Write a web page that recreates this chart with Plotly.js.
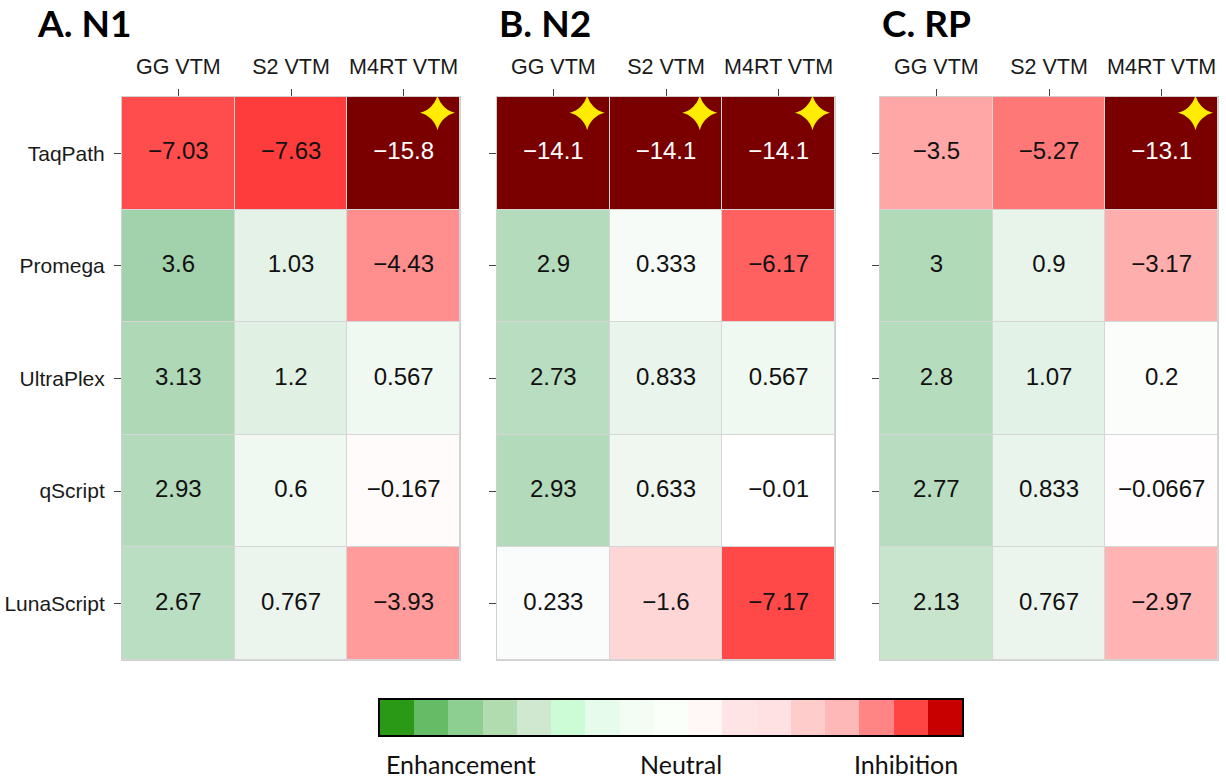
<!DOCTYPE html>
<html><head><meta charset="utf-8">
<script src="https://cdn.plot.ly/plotly-3.0.1.min.js"></script>
<style>html,body{margin:0;padding:0;background:#fff}#chart{width:1226px;height:780px}</style>
</head><body><div id="chart"></div>
<script>
// ---- data ----
const assays = ['TaqPath','Promega','UltraPlex','qScript','LunaScript'];
const media = ['GG VTM','S2 VTM','M4RT VTM'];
const panelTitles = ['A. N1','B. N2','C. RP'];
const valuesN1 = [[-7.03,-7.63,-15.8],[3.6,1.03,-4.43],[3.13,1.2,0.567],[2.93,0.6,-0.167],[2.67,0.767,-3.93]];
const valuesN2 = [[-14.1,-14.1,-14.1],[2.9,0.333,-6.17],[2.73,0.833,0.567],[2.93,0.633,-0.01],[0.233,-1.6,-7.17]];
const valuesRP = [[-3.5,-5.27,-13.1],[3,0.9,-3.17],[2.8,1.07,0.2],[2.77,0.833,-0.0667],[2.13,0.767,-2.97]];
const starsN1 = [[0,2]];
const starsN2 = [[0,0],[0,1],[0,2]];
const starsRP = [[0,2]];
const scaleLabels = ['Enhancement','Neutral','Inhibition'];
const scaleSteps = [0,1,2,3,4,5,6,7,8,9,10,11,12,13,14,15,16];
const scaleColors = ['#2a9a16','#66bb66','#8ccf90','#b0dcb0','#cfe8cf','#ccfcd6','#e6fbec','#f4fdf4','#fafffa',
  '#fff8f7','#ffe4e6','#ffe0e3','#ffcccc','#ffb8b8','#ff8484','#ff4444','#c80000'];

// ---- layout helpers ----
const W = 1226, H = 780;
const px = x => x / W, py = y => 1 - y / H;
const panelX = [[122,460],[497,835],[880,1218]];
const plotTop = 97, plotBot = 660;
const fmt = v => String(v).replace('-', '\u2212');

const heatScale = [[0,'rgb(122,0,0)'],[0.325,'rgb(122,0,0)'],[0.375,'rgb(255,38,38)'],
  [0.8,'rgb(255,255,255)'],[1,'rgb(151,205,162)']];

const panels = [valuesN1, valuesN2, valuesRP];
const stars = [starsN1, starsN2, starsRP];
const traces = [];
const layout = {
  width: W, height: H, margin: {l:0,r:0,t:0,b:0},
  paper_bgcolor: '#fff', plot_bgcolor: '#d6d6d6', showlegend: false,
  font: {family: 'Liberation Sans, Arial, sans-serif', color: '#1a1a1a'},
  annotations: [], shapes: []
};

panels.forEach((vals, p) => {
  const n = p + 1, xa = 'x' + (n === 1 ? '' : n), ya = 'y' + (n === 1 ? '' : n);
  traces.push({
    type: 'heatmap', x: [0,1,2], y: [0,1,2,3,4], z: vals,
    zmin: -16, zmax: 4, colorscale: heatScale, showscale: false,
    xgap: 1, ygap: 1, xaxis: xa, yaxis: ya, hoverinfo: 'skip'
  });
  const tx = [], ty = [], tt = [], tc = [];
  vals.forEach((row, r) => row.forEach((v, c) => {
    tx.push(c); ty.push(r); tt.push(fmt(v)); tc.push(v < -10 ? '#ffffff' : '#111111');
  }));
  traces.push({
    type: 'scatter', mode: 'text', x: tx, y: ty, text: tt,
    textfont: {family: 'Liberation Sans, Arial, sans-serif', size: 24, color: tc},
    xaxis: xa, yaxis: ya, hoverinfo: 'skip'
  });
  traces.push({
    type: 'scatter', mode: 'markers',
    x: stars[p].map(s => s[1] + 0.3), y: stars[p].map(s => s[0] - 0.36),
    marker: {symbol: 'star-diamond', size: 25, color: '#ffec00', line: {width: 0}},
    xaxis: xa, yaxis: ya, hoverinfo: 'skip'
  });
  layout['xaxis' + (n === 1 ? '' : n)] = {
    domain: [px(panelX[p][0]), px(panelX[p][1])], anchor: ya, side: 'top',
    range: [-0.5, 2.5], tickvals: [0,1,2], ticktext: media,
    ticks: 'outside', ticklen: 7, tickwidth: 1, tickcolor: '#444',
    ticklabelstandoff: 6,
    tickfont: {size: 21.5, color: '#1a1a1a'},
    showgrid: false, zeroline: false, showline: true, mirror: true,
    linecolor: '#d0d0d0', linewidth: 1, fixedrange: true
  };
  layout['yaxis' + (n === 1 ? '' : n)] = {
    domain: [py(plotBot), py(plotTop)], anchor: xa,
    range: [4.5, -0.5], tickvals: [0,1,2,3,4], ticktext: assays,
    showticklabels: p === 0,
    ticks: 'outside', ticklen: 7, tickwidth: 1, tickcolor: '#444',
    ticklabelstandoff: 5,
    tickfont: {size: 21, color: '#1a1a1a'},
    showgrid: false, zeroline: false, showline: true, mirror: true,
    linecolor: '#d0d0d0', linewidth: 1, fixedrange: true
  };
  layout.annotations.push({
    text: '<b>' + panelTitles[p] + '</b>', xref: 'paper', yref: 'paper',
    x: px(panelX[p][0] - (p === 0 ? 87 : 0)), y: py(22), xanchor: 'left', yanchor: 'middle',
    showarrow: false, font: {family: 'Lato, Open Sans, sans-serif', size: 37, color: '#000', weight: 900}
  });
});

// ---- discrete scale bar ----
const stepScale = [];
scaleColors.forEach((c, i) => {
  stepScale.push([i / scaleColors.length, c]);
  stepScale.push([(i + 1) / scaleColors.length, c]);
});
traces.push({
  type: 'heatmap', x: scaleSteps, y: [0], z: [scaleSteps],
  zmin: -0.5, zmax: scaleSteps.length - 0.5, colorscale: stepScale, showscale: false,
  xaxis: 'x4', yaxis: 'y4', hoverinfo: 'skip'
});
layout.xaxis4 = {
  domain: [px(380), px(962)], anchor: 'y4', range: [-0.5, scaleSteps.length - 0.5],
  showticklabels: false, ticks: '', showgrid: false, zeroline: false,
  showline: true, mirror: true, linecolor: '#000', linewidth: 2, fixedrange: true
};
layout.yaxis4 = {
  domain: [py(735), py(700)], anchor: 'x4', range: [-0.5, 0.5],
  showticklabels: false, ticks: '', showgrid: false, zeroline: false,
  showline: true, mirror: true, linecolor: '#000', linewidth: 2, fixedrange: true
};
const labelX = [[384,'left'],[681,'center'],[960,'right']];
scaleLabels.forEach((t, i) => {
  layout.annotations.push({
    text: t, xref: 'paper', yref: 'paper', x: px(labelX[i][0]), y: py(764),
    xanchor: labelX[i][1], yanchor: 'middle', showarrow: false,
    font: {family: 'Lato, Open Sans, sans-serif', size: 25, color: '#111'}
  });
});

Plotly.newPlot('chart', traces, layout, {displayModeBar: false, staticPlot: true});
</script></body></html>
